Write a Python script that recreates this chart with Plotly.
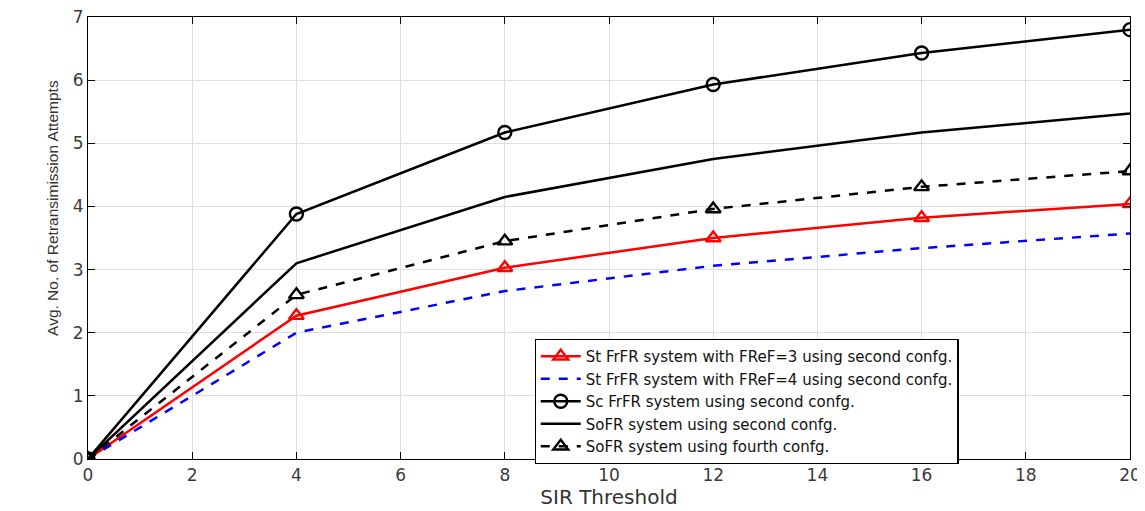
import plotly.graph_objects as go

sir = [0, 4, 8, 12, 16, 20]
st_frfr_f3 = [0, 2.27, 3.03, 3.50, 3.82, 4.04]
st_frfr_f4 = [0, 2.00, 2.66, 3.06, 3.34, 3.57]
sc_frfr = [0, 3.88, 5.17, 5.93, 6.43, 6.80]
sofr_second = [0, 3.10, 4.15, 4.75, 5.17, 5.47]
sofr_fourth = [0, 2.60, 3.45, 3.96, 4.31, 4.56]

names = [
    "St FrFR system with FReF=3 using second confg.",
    "St FrFR system with FReF=4 using second confg.",
    "Sc FrFR system using second confg.",
    "SoFR system using second confg.",
    "SoFR system using fourth confg.",
]
x_ticks = list(range(0, 21, 2))
y_ticks = list(range(0, 8))

FONT = "DejaVu Sans, Liberation Sans, Arial"

fig = go.Figure()
fig.add_trace(go.Scatter(x=sir, y=st_frfr_f3, name=names[0], mode="lines+markers",
                         line=dict(color="#ff0000", width=2.5),
                         marker=dict(symbol="triangle-up-open", size=13, color="#ff0000",
                                     line=dict(width=2.4, color="#ff0000"))))
fig.add_trace(go.Scatter(x=sir, y=st_frfr_f4, name=names[1], mode="lines",
                         line=dict(color="#0000ff", width=2.5, dash="dash")))
fig.add_trace(go.Scatter(x=sir, y=sc_frfr, name=names[2], mode="lines+markers",
                         line=dict(color="#000000", width=2.5),
                         marker=dict(symbol="circle-open", size=13, color="#000000",
                                     line=dict(width=2.4, color="#000000"))))
fig.add_trace(go.Scatter(x=sir, y=sofr_second, name=names[3], mode="lines",
                         line=dict(color="#000000", width=2.5)))
fig.add_trace(go.Scatter(x=sir, y=sofr_fourth, name=names[4], mode="lines+markers",
                         line=dict(color="#000000", width=2.5, dash="dash"),
                         marker=dict(symbol="triangle-up-open", size=13, color="#000000",
                                     line=dict(width=2.4, color="#000000"))))

axis_common = dict(showline=True, linecolor="#000000", linewidth=1.2, mirror="ticks",
                   ticks="inside", ticklen=7, tickcolor="#000000", automargin=False,
                   ticklabeloverflow="allow",
                   showgrid=True, gridcolor="#dedede", gridwidth=1, zeroline=False,
                   tickfont=dict(family=FONT, size=17, color="#3a3a3a"))

fig.update_layout(
    width=1137, height=503,
    margin=dict(l=80, r=15, t=9, b=52),
    paper_bgcolor="white", plot_bgcolor="white",
    showlegend=True,
    legend=dict(x=0.632, y=0.272, xanchor="center", yanchor="top",
                bgcolor="white", bordercolor="#000000", borderwidth=1.2,
                font=dict(family=FONT, size=15, color="#111111"),
                tracegroupgap=0, itemwidth=40),
    xaxis=dict(range=[0, 20], tickvals=x_ticks, **axis_common,
               title=dict(text="SIR Threshold", standoff=2,
                          font=dict(family=FONT, size=20, color="#333333"))),
    yaxis=dict(range=[0, 7], tickvals=y_ticks, **axis_common),
)
fig.add_annotation(text="Avg. No. of Retransimission Attempts", textangle=-90,
                   xref="paper", yref="paper", x=-0.0336, y=0.568, showarrow=False,
                   xanchor="center", yanchor="middle",
                   font=dict(family="Liberation Sans, Arial", size=15.5, color="#333333"))

fig.write_html("out.html")
